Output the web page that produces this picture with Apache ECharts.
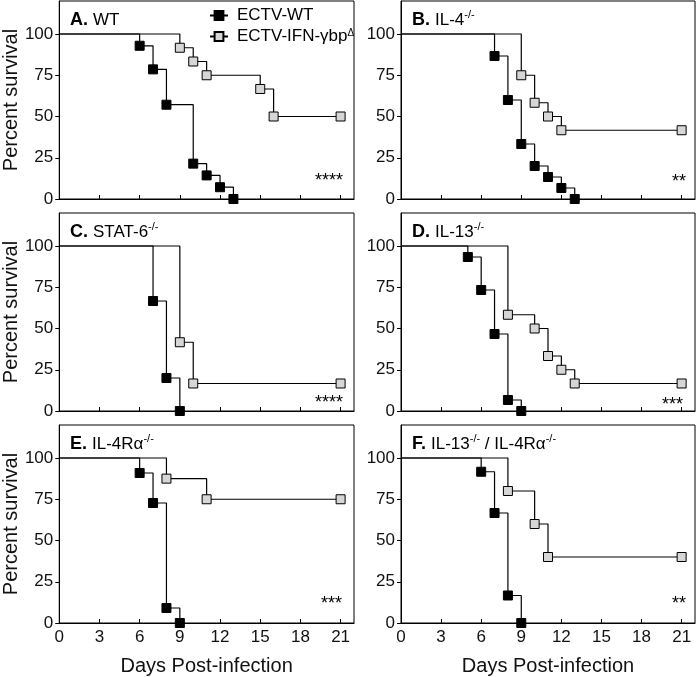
<!DOCTYPE html>
<html><head><meta charset="utf-8">
<script src="https://cdn.jsdelivr.net/npm/echarts@6/dist/echarts.min.js"></script>
<style>html,body{margin:0;padding:0;background:#fff}#c{width:700px;height:677px}</style>
</head><body><div id="c"></div>
<script>
// ---- data ----
const xTicks = [0, 3, 6, 9, 12, 15, 18, 21];
const yTicks = [0, 25, 50, 75, 100];
const seriesNames = ['ECTV-WT', 'ECTV-IFN-γbpΔ'];

const wtA_days = [0, 6, 7, 8, 10, 11, 12, 13];
const wtA_surv = [100, 92.86, 78.57, 57.14, 21.43, 14.29, 7.14, 0];
const ifnA_days = [0, 9, 10, 11, 15, 16, 21];
const ifnA_surv = [100, 91.67, 83.33, 75, 66.67, 50, 50];

const wtB_days = [0, 7, 8, 9, 10, 11, 12, 13];
const wtB_surv = [100, 86.67, 60, 33.33, 20, 13.33, 6.67, 0];
const ifnB_days = [0, 9, 10, 11, 12, 21];
const ifnB_surv = [100, 75, 58.33, 50, 41.67, 41.67];

const wtC_days = [0, 7, 8, 9];
const wtC_surv = [100, 66.67, 20, 0];
const ifnC_days = [0, 9, 10, 21];
const ifnC_surv = [100, 41.67, 16.67, 16.67];

const wtD_days = [0, 5, 6, 7, 8, 9];
const wtD_surv = [100, 93.33, 73.33, 46.67, 6.67, 0];
const ifnD_days = [0, 8, 10, 11, 12, 13, 21];
const ifnD_surv = [100, 58.33, 50, 33.33, 25, 16.67, 16.67];

const wtE_days = [0, 6, 7, 8, 9];
const wtE_surv = [100, 90.91, 72.73, 9.09, 0];
const ifnE_days = [0, 8, 11, 21];
const ifnE_surv = [100, 87.5, 75, 75];

const wtF_days = [0, 6, 7, 8, 9];
const wtF_surv = [100, 91.67, 66.67, 16.67, 0];
const ifnF_days = [0, 8, 10, 11, 21];
const ifnF_surv = [100, 80, 60, 40, 40];

const panelTitles = [
  '{b|A.} {n|WT}',
  '{b|B.} {n|IL-4}{s|-/-}',
  '{b|C.} {n|STAT-6}{s|-/-}',
  '{b|D.} {n|IL-13}{s|-/-}',
  '{b|E.} {n|IL-4Rα}{s|-/-}',
  '{b|F.} {n|IL-13}{s|-/-}{n| / IL-4Rα}{s|-/-}'
];
const significance = ['****', '**', '****', '***', '***', '**'];

// ---- layout ----
const FONT = "'Liberation Sans', Arial, sans-serif";
const panels = [
  [wtA_days, wtA_surv, ifnA_days, ifnA_surv],
  [wtB_days, wtB_surv, ifnB_days, ifnB_surv],
  [wtC_days, wtC_surv, ifnC_days, ifnC_surv],
  [wtD_days, wtD_surv, ifnD_days, ifnD_surv],
  [wtE_days, wtE_surv, ifnE_days, ifnE_surv],
  [wtF_days, wtF_surv, ifnF_days, ifnF_surv]
];
const colLeft = [59, 401], colWidth = [295, 294];
const rowTop = [1, 213, 425], rowH = 198;
const starY = [180, 181, 190, 192, 179, 179];
const starRight = [11, 9, 11, 12, 12, 9];

function mk(days, surv) {
  return days.map((d, i) => i === 0 ? { value: [d, surv[i]], symbol: 'none' } : [d, surv[i]]);
}

const grids = [], xAxes = [], yAxes = [], series = [], titles = [], graphics = [];
const richT = {
  b: { fontFamily: FONT, fontSize: 18, fontWeight: 'bold', color: '#000', lineHeight: 22 },
  n: { fontFamily: FONT, fontSize: 17, fontWeight: 'normal', color: '#000', lineHeight: 22 },
  s: { fontFamily: FONT, fontSize: 11, fontWeight: 'normal', color: '#000', lineHeight: 12, verticalAlign: 'top' }
};
panels.forEach((p, i) => {
  const col = i % 2, row = Math.floor(i / 2);
  const left = colLeft[col], top = rowTop[row];
  grids.push({ left: left, top: top, width: colWidth[col], height: rowH, show: true,
    borderColor: '#000', borderWidth: 1, backgroundColor: 'transparent' });
  const bottomRow = row === 2;
  xAxes.push({ type: 'value', gridIndex: i, min: 0, max: 22, interval: 3,
    name: bottomRow ? 'Days Post-infection' : '', nameLocation: 'middle', nameGap: 33,
    nameTextStyle: { fontFamily: FONT, fontSize: 20, color: '#111' },
    axisLine: { show: true, lineStyle: { color: '#000', width: 1 } },
    axisTick: { show: true, inside: true, length: 4, customValues: xTicks, lineStyle: { color: '#000' } },
    axisLabel: { show: bottomRow, customValues: xTicks, margin: 6, fontFamily: FONT, fontSize: 17, color: '#111' },
    splitLine: { show: false } });
  yAxes.push({ type: 'value', gridIndex: i, min: 0, max: 120, interval: 25,
    name: col === 0 ? 'Percent survival' : '', nameLocation: 'middle', nameGap: 37,
    nameTextStyle: { fontFamily: FONT, fontSize: 20, color: '#111' },
    axisLine: { show: true, lineStyle: { color: '#000', width: 1 } },
    axisTick: { show: true, inside: false, length: 4, customValues: yTicks, lineStyle: { color: '#000' } },
    axisLabel: { customValues: yTicks, margin: 6, fontFamily: FONT, fontSize: 17, color: '#111' },
    splitLine: { show: false } });
  series.push({ type: 'line', name: seriesNames[0], xAxisIndex: i, yAxisIndex: i, step: 'end',
    data: mk(p[0], p[1]), symbol: 'rect', symbolSize: 9, showAllSymbol: true,
    lineStyle: { color: '#000', width: 1.2 },
    itemStyle: { color: '#000', borderColor: '#000', borderWidth: 1 }, z: 4 });
  series.push({ type: 'line', name: seriesNames[1], xAxisIndex: i, yAxisIndex: i, step: 'end',
    data: mk(p[2], p[3]), symbol: 'rect', symbolSize: 9, showAllSymbol: true,
    lineStyle: { color: '#000', width: 1.2 },
    itemStyle: { color: '#d6d6d6', borderColor: '#000', borderWidth: 1 }, z: 3 });
  titles.push({ text: panelTitles[i], left: left + 11, top: top + 8, padding: 0,
    textStyle: { fontWeight: 'normal', rich: richT } });
  graphics.push({ type: 'text', x: left + colWidth[col] - starRight[i], y: top + starY[i],
    style: { text: significance[i], fontFamily: FONT, fontSize: 18, fill: '#000',
      textAlign: 'right', textVerticalAlign: 'middle' } });
});

const chart = echarts.init(document.getElementById('c'), null, { renderer: 'canvas' });
chart.setOption({
  animation: false,
  backgroundColor: '#fff',
  title: titles,
  legend: {
    data: seriesNames, orient: 'vertical', left: 209, top: 7, padding: 0,
    itemWidth: 18, itemHeight: 11, itemGap: 4, selectedMode: false,
    formatter: function (name) {
      return name === 'ECTV-WT' ? '{m|ECTV-WT}' : '{m|ECTV-IFN-γbp}{s|Δ}';
    },
    textStyle: { padding: [0, 0, 0, 4], rich: {
      m: { fontFamily: FONT, fontSize: 17, color: '#000', lineHeight: 17 },
      s: { fontFamily: FONT, fontSize: 10, color: '#000', lineHeight: 10, verticalAlign: 'top' }
    } }
  },
  grid: grids, xAxis: xAxes, yAxis: yAxes, series: series,
  graphic: graphics
});
</script></body></html>
